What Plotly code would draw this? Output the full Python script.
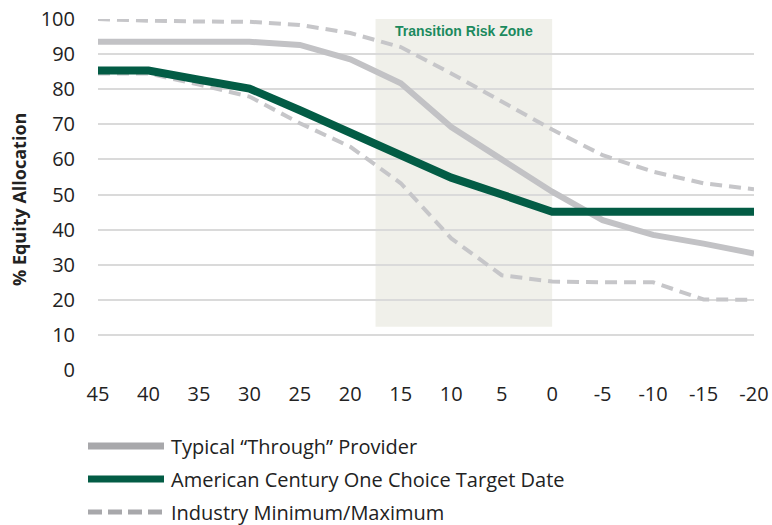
import plotly.graph_objects as go

# ---- data ----
years = [45, 40, 35, 30, 25, 20, 15, 10, 5, 0, -5, -10, -15, -20]
typical = [93.5, 93.5, 93.5, 93.5, 92.6, 88.5, 81.7, 69.2, 60.0, 50.8, 42.7, 38.5, 36.0, 33.2]
american = [85.3, 85.3, 82.7, 80.2, 74.0, 67.6, 61.2, 54.8, 50.0, 45.1, 45.1, 45.1, 45.1, 45.1]
ind_max = [100.0, 99.5, 99.3, 99.2, 98.3, 96.0, 92.0, 84.5, 76.5, 68.5, 61.2, 56.5, 53.2, 51.5]
ind_min = [84.5, 84.5, 81.3, 77.9, 70.3, 63.6, 53.2, 37.5, 27.0, 25.2, 25.0, 25.0, 20.1, 20.0]
series_names = ["Typical \u201cThrough\u201d Provider",
                "American Century One Choice Target Date",
                "Industry Minimum/Maximum"]
zone_x = [17.5, 0]
zone_y = [12.3, 100]
zone_label = "Transition Risk Zone"
y_title = "% Equity Allocation"
y_ticks = [0, 10, 20, 30, 40, 50, 60, 70, 80, 90, 100]
x_ticks = years

GRAY = "#c2c2c5"
GREEN = "#035c45"
DASH = "#c6c6c9"
FONT = "Open Sans"

W, H = 772, 525
L, R, T, B = 98, 18, 19, 155
pw, ph = W - L - R, H - T - B


def px_x(p):
    return (p - L) / pw


def px_y(p):
    return (H - B - p) / ph


fig = go.Figure()
fig.add_trace(go.Scatter(x=years, y=typical, mode="lines", name=series_names[0],
                         line=dict(color=GRAY, width=6), cliponaxis=False, showlegend=False))
fig.add_trace(go.Scatter(x=years, y=ind_max, mode="lines", name=series_names[2],
                         line=dict(color=DASH, width=4, dash="12px,7px"), cliponaxis=False, showlegend=False))
fig.add_trace(go.Scatter(x=years, y=ind_min, mode="lines", name=series_names[2] + " min",
                         line=dict(color=DASH, width=4, dash="12px,7px"), cliponaxis=False, showlegend=False))
fig.add_trace(go.Scatter(x=years, y=american, mode="lines", name=series_names[1],
                         line=dict(color=GREEN, width=8), cliponaxis=False, showlegend=False))

fig.add_shape(type="rect", xref="x", yref="y", x0=zone_x[0], x1=zone_x[1], y0=zone_y[0], y1=zone_y[1],
              fillcolor="#f0f0ea", line=dict(width=0), layer="below")
fig.add_annotation(x=(zone_x[0] + zone_x[1]) / 2, y=zone_y[1], xref="x", yref="y", yanchor="top", yshift=-2,
                   text="<b>%s</b>" % zone_label, showarrow=False,
                   font=dict(family="Liberation Sans, Arial", size=14, color="#1b8a5e"))

# y-axis title
fig.add_annotation(xref="paper", yref="paper", x=px_x(19), y=px_y(200), textangle=-90,
                   xanchor="center", yanchor="middle", showarrow=False,
                   text="<b>%s</b>" % y_title, font=dict(family=FONT, size=18, color="#222222"))

# custom legend
leg_rows = [446, 479, 512]
leg_styles = [dict(color="#a8a8ab", width=7), dict(color=GREEN, width=7),
              dict(color="#a8a8ab", width=5, dash="14px,6px")]
for name, ry, st in zip(series_names, leg_rows, leg_styles):
    fig.add_shape(type="line", xref="paper", yref="paper", x0=px_x(88), x1=px_x(164),
                  y0=px_y(ry), y1=px_y(ry), line=st)
    fig.add_annotation(xref="paper", yref="paper", x=px_x(169), y=px_y(ry), xanchor="left", yanchor="middle",
                       text=name, showarrow=False, font=dict(family=FONT, size=20, color="#222222"))

fig.update_layout(
    width=W, height=H, margin=dict(l=L, r=R, t=T, b=B, autoexpand=False),
    plot_bgcolor="white", paper_bgcolor="white",
    font=dict(family=FONT, color="#222222"),
    xaxis=dict(range=[45, -20], tickvals=x_ticks, ticktext=[str(v) for v in x_ticks],
               showgrid=False, zeroline=False, showline=False, ticks="",
               tickfont=dict(size=20, color="#222222"), ticklabelstandoff=10),
    yaxis=dict(range=[0, 100], tickvals=y_ticks, showgrid=True, gridcolor="#dadada", gridwidth=1.5,
               zeroline=False, showline=False, ticks="",
               tickfont=dict(size=20, color="#222222"), ticklabelstandoff=22),
)

fig.write_html("out.html", config={"displayModeBar": False},
               post_script="document.body.style.margin='0px';")
